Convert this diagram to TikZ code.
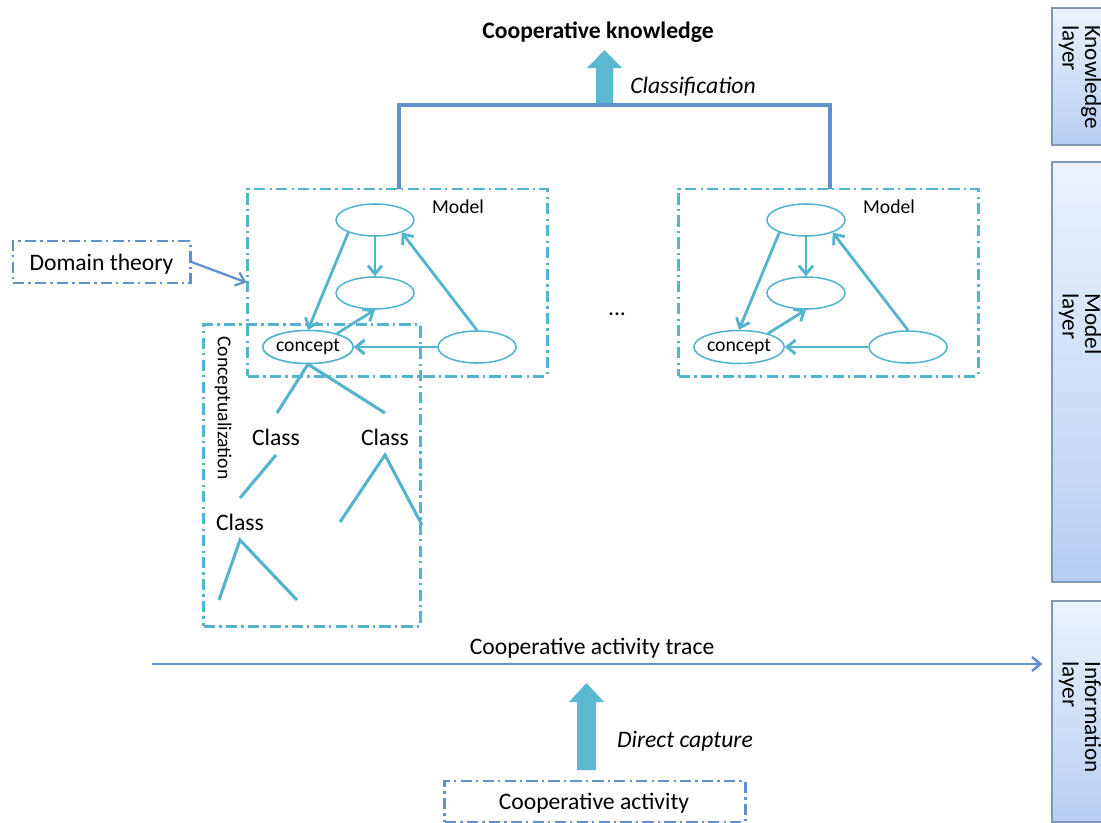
\documentclass[tikz,border=0pt]{standalone}
\usepackage{fontspec}
\setmainfont{Carlito}
\usetikzlibrary{arrows.meta,shapes.geometric}
\definecolor{cy}{RGB}{84,180,205}
\definecolor{cyfill}{RGB}{91,184,207}
\definecolor{sb}{RGB}{96,145,204}
\definecolor{lay1}{RGB}{236,242,252}
\definecolor{lay2}{RGB}{182,206,244}
\definecolor{layb}{RGB}{130,150,182}
\begin{document}
\begin{tikzpicture}[x=0.025cm,y=-0.025cm,
  dashdot/.style={line width=2.1pt, dash pattern=on 8pt off 3pt on 1.6pt off 3pt},
  cybox/.style={dashdot, draw=cy, rectangle, inner sep=0pt},
  sbbox/.style={dashdot, draw=sb, rectangle, inner sep=0pt},
  ell/.style={ellipse, draw=cy, line width=1.1pt, fill=white, inner sep=0pt, minimum width=1.95cm, minimum height=0.8cm, font=\fontsize{14}{16}\selectfont},
  conn/.style={draw=cy, line width=2pt, -{Straight Barb[length=6pt,width=10pt]}},
  treeline/.style={draw=cy, line width=2.2pt},
  layerbox/.style={draw=layb, line width=0.8pt, top color=lay1, bottom color=lay2, rectangle, minimum width=1.35cm, inner sep=0pt},
  layertext/.style={rotate=-90, align=left, font=\fontsize{16.5}{16}\selectfont, inner sep=0pt},
  lbl/.style={font=\fontsize{16.8}{19}\selectfont, inner sep=0pt},
  small/.style={font=\fontsize{14}{16}\selectfont, inner sep=0pt},
  bigarrow/.style={fill=cyfill}
]
\useasboundingbox (0,0) rectangle (1101,823);

% layer boxes
\node[layerbox, minimum height=3.425cm] (know) at (1079,76.5) {};
\node[layerbox, minimum height=10.5cm] (model) at (1079,372) {};
\node[layerbox, minimum height=5.525cm] (info) at (1079,711.5) {};
\node[layertext] (knowt) at (1080,77) {Knowledge\\layer};
\node[layertext] (modelt) at (1080,324) {Model\\layer};
\node[layertext] (infot) at (1080,717) {Information\\layer};

% top
\node[lbl, font=\fontsize{16.8}{19}\selectfont\bfseries] (ck) at (598,32) {Cooperative knowledge};
\fill[bigarrow] (596,105) -- (596,68) -- (587,68) -- (604.5,50) -- (622,68) -- (613,68) -- (613,105) -- cycle;
\node[lbl, font=\fontsize{16.8}{19}\selectfont\itshape] (cls) at (693,87) {Classification};

% models
\foreach \p/\dx in {a/0,b/431}{
\begin{scope}[shift={(\dx,0)}, name prefix=\p-]
  \node[cybox, minimum width=7.475cm, minimum height=4.675cm] (box) at (397.5,282.5) {};
  \node[small] (lab) at (458,207) {Model};
  \node[ell] (top) at (375,220) {};
  \node[ell] (mid) at (375,293) {};
  \node[ell, minimum width=1.925cm, minimum height=0.825cm] (con) at (308,347) {concept};
  \node[ell] (rgt) at (477,347) {};
  \draw[conn] (top.south) -- (mid.north);
  \draw[conn] (top.205) -- (con.north);
  \draw[conn] (con.25) -- (mid.south);
  \draw[conn] (rgt.west) -- (con.east);
  \draw[conn] (rgt.north) -- (top.335);
\end{scope}
}
\coordinate (bl) at (399,189);
\coordinate (br) at (830,189);
\draw[sb, line width=2.2pt] (bl) -- ++(0,-84) -| (br);

\node[lbl] (dots) at (617,314) {...};

% conceptualization
\node[cybox, minimum width=5.4cm, minimum height=7.525cm] (cbox) at (312,475.5) {};
\node[small, rotate=-90] (ctext) at (223,408) {Conceptualization};
\node[ell, minimum width=1.925cm, minimum height=0.825cm] (a-con2) at (308,347) {concept};
\node[lbl] (c1) at (276,437) {Class};
\node[lbl] (c2) at (385,437) {Class};
\node[lbl] (c3) at (240,522) {Class};
\coordinate (e1) at (277,413);
\coordinate (e2) at (385,413);
\coordinate (s1) at (276,455);
\coordinate (e3) at (240,498);
\coordinate (s2) at (385,455);
\coordinate (e4) at (340,522);
\coordinate (e5) at (422,525);
\coordinate (s3) at (240,540);
\coordinate (e6) at (219,600);
\coordinate (e7) at (297,600);
\draw[treeline] (e1) -- (a-con2.south) -- (e2);
\draw[treeline] (s1) -- (e3);
\draw[treeline] (e4) -- (s2) -- (e5);
\draw[treeline] (e6) -- (s3) -- (e7);
\draw[conn] (a-rgt.west) -- (a-con2.east);

% domain theory
\node[sbbox, minimum width=4.425cm, minimum height=1.05cm] (dt) at (101.5,262) {};
\node[lbl] (dtt) at (101.5,264) {Domain theory};
\draw[sb, line width=1.6pt, -{Straight Barb[length=6pt,width=10pt]}] (dt.east) -- (a-box.west);

% trace
\coordinate (ts) at (152,664);
\draw[sb, line width=1.8pt, -{Straight Barb[length=6pt,width=10pt]}, shorten >=0.225cm] (ts) -- (ts -| info.west);
\node[lbl] (trt) at (592,648) {Cooperative activity trace};

% direct capture
\node[sbbox, minimum width=7.5cm, minimum height=1.025cm] (ca) at (595,801.5) {};
\node[lbl] (cat) at (594,803) {Cooperative activity};
\fill[bigarrow] (577,770) -- (577,702) -- (569,702) -- (586.5,683) -- (604,702) -- (596,702) -- (596,770) -- cycle;
\node[lbl, font=\fontsize{16.8}{19}\selectfont\itshape] (dc) at (685,741) {Direct capture};
\end{tikzpicture}
\end{document}
